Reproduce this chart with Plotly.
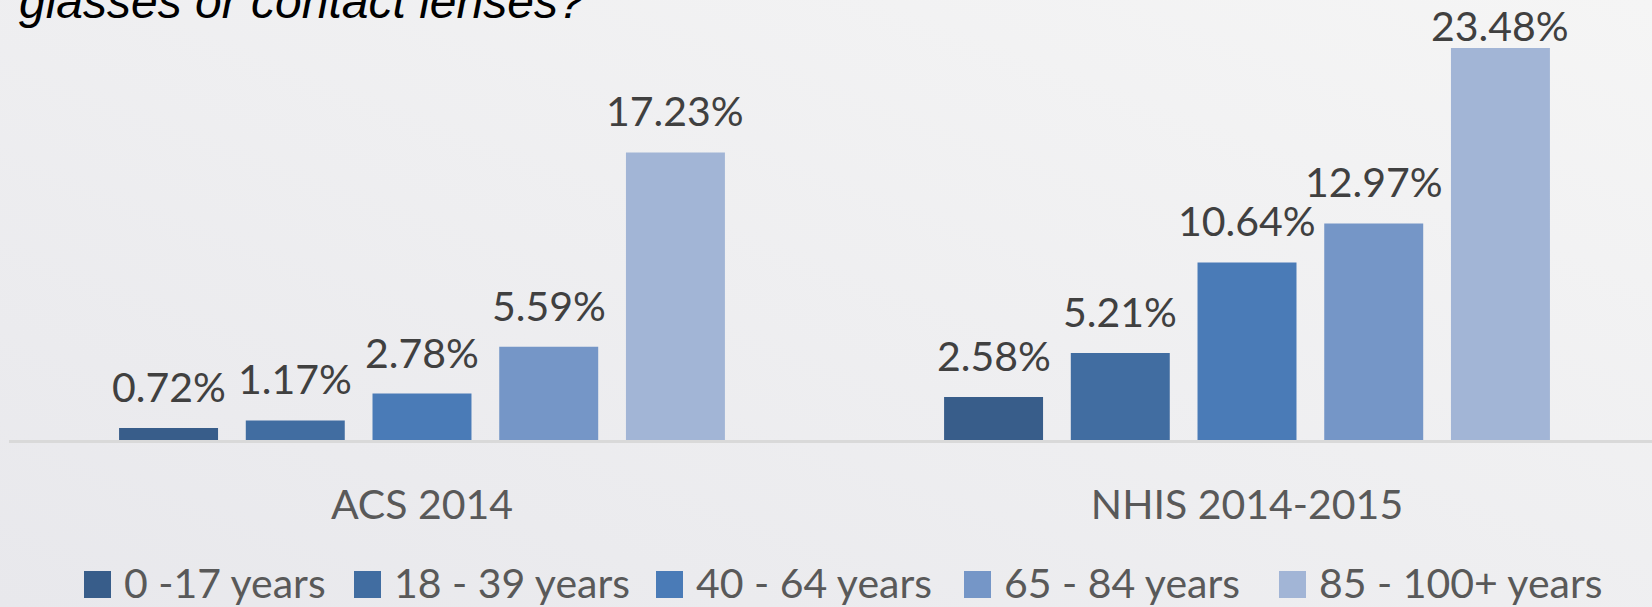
import base64

import plotly.graph_objects as go


SURVEYS = ["ACS 2014", "NHIS 2014-2015"]
AGE_GROUPS = ["0 -17 years", "18 - 39 years", "40 - 64 years", "65 - 84 years", "85 - 100+ years"]
ACS_2014 = [0.72, 1.17, 2.78, 5.59, 17.23]
NHIS_2014_2015 = [2.58, 5.21, 10.64, 12.97, 23.48]
TITLE_LINE = "glasses or contact lenses?"

COLORS = ["#385D8A", "#416DA1", "#4A7BB7", "#7596C7", "#A2B5D6"]

FIG_W, FIG_H = 1652, 607
MARGIN = dict(l=9, r=0, t=20, b=167)
PLOT_W = FIG_W - MARGIN["l"] - MARGIN["r"]
PLOT_H = FIG_H - MARGIN["t"] - MARGIN["b"]
Y_MAX = 25.16
BARGAP = 0.232
GROUPGAP = 0.219
FONT = "Lato, Open Sans, sans-serif"
FONT_SIZE = 41
LEGEND_X = [84, 354, 656, 964, 1279]


def px_x(x):
    return (x - MARGIN["l"]) / PLOT_W


def px_y(y):
    return (FIG_H - MARGIN["b"] - y) / PLOT_H


fig = go.Figure()
values_by_group = list(zip(ACS_2014, NHIS_2014_2015))
for name, vals, color in zip(AGE_GROUPS, values_by_group, COLORS):
    fig.add_trace(go.Bar(x=SURVEYS, y=list(vals), name=name, marker=dict(color=color, line=dict(width=0))))

# data labels, kept inside the figure when the bar is tall
slot = (1 - BARGAP) / len(AGE_GROUPS)
px_per_unit = PLOT_H / Y_MAX
annotations = []
for j, vals in enumerate(values_by_group):
    for i, v in enumerate(vals):
        shift = 15
        box_top = MARGIN["t"] + PLOT_H - v * px_per_unit - shift - 51
        if box_top < 1:
            shift += box_top - 1
        annotations.append(dict(
            x=i + (j - (len(AGE_GROUPS) - 1) / 2) * slot, y=v, xref="x", yref="y",
            text=f"{v:.2f}%", showarrow=False, yanchor="bottom", yshift=shift,
            font=dict(family=FONT, size=FONT_SIZE, color="#404040"),
        ))

annotations.append(dict(
    x=px_x(17), y=px_y(30), xref="paper", yref="paper", xanchor="left", yanchor="bottom",
    text=TITLE_LINE, showarrow=False,
    font=dict(family="Liberation Sans, Arial", size=48, color="#000000", style="italic"),
))

shapes = []
for name, color, lx in zip(AGE_GROUPS, COLORS, LEGEND_X):
    shapes.append(dict(type="rect", xref="paper", yref="paper", x0=px_x(lx), x1=px_x(lx + 27),
                       y0=px_y(598), y1=px_y(571), fillcolor=color, line=dict(width=0)))
    annotations.append(dict(
        x=px_x(lx + 38), y=px_y(582), xref="paper", yref="paper", xanchor="left", yanchor="middle",
        text=name, showarrow=False, font=dict(family=FONT, size=FONT_SIZE, color="#595959"),
    ))

svg = (
    f"<svg xmlns='http://www.w3.org/2000/svg' width='{FIG_W}' height='{FIG_H}' preserveAspectRatio='none'>"
    "<defs><linearGradient id='g' x1='0' y1='1' x2='1' y2='0'>"
    "<stop offset='0' stop-color='#E8E8EC'/><stop offset='1' stop-color='#F5F5F5'/>"
    "</linearGradient></defs>"
    f"<rect width='{FIG_W}' height='{FIG_H}' fill='url(#g)'/></svg>"
)
bg_src = "data:image/svg+xml;base64," + base64.b64encode(svg.encode()).decode()

fig.update_layout(
    width=FIG_W,
    height=FIG_H,
    margin=MARGIN,
    barmode="group",
    bargap=BARGAP,
    bargroupgap=GROUPGAP,
    showlegend=False,
    paper_bgcolor="#EEEEF0",
    plot_bgcolor="rgba(0,0,0,0)",
    font=dict(family=FONT, size=FONT_SIZE, color="#595959"),
    annotations=annotations,
    shapes=shapes,
    images=[dict(source=bg_src, xref="paper", yref="paper", x=px_x(0), y=px_y(0),
                 sizex=FIG_W / PLOT_W, sizey=FIG_H / PLOT_H, xanchor="left", yanchor="top",
                 sizing="stretch", layer="below")],
)
fig.update_xaxes(
    range=[-0.5006, 1.4909],
    showline=True,
    linecolor="#D9D9D9",
    linewidth=3,
    ticks="",
    showgrid=False,
    tickfont=dict(family=FONT, size=FONT_SIZE, color="#595959"),
    ticklabelstandoff=27,
)
fig.update_yaxes(range=[0, Y_MAX], visible=False, showgrid=False, zeroline=False)

fig.write_html(
    "out.html",
    config={"displayModeBar": False},
    post_script="document.body.style.margin='0';",
)
